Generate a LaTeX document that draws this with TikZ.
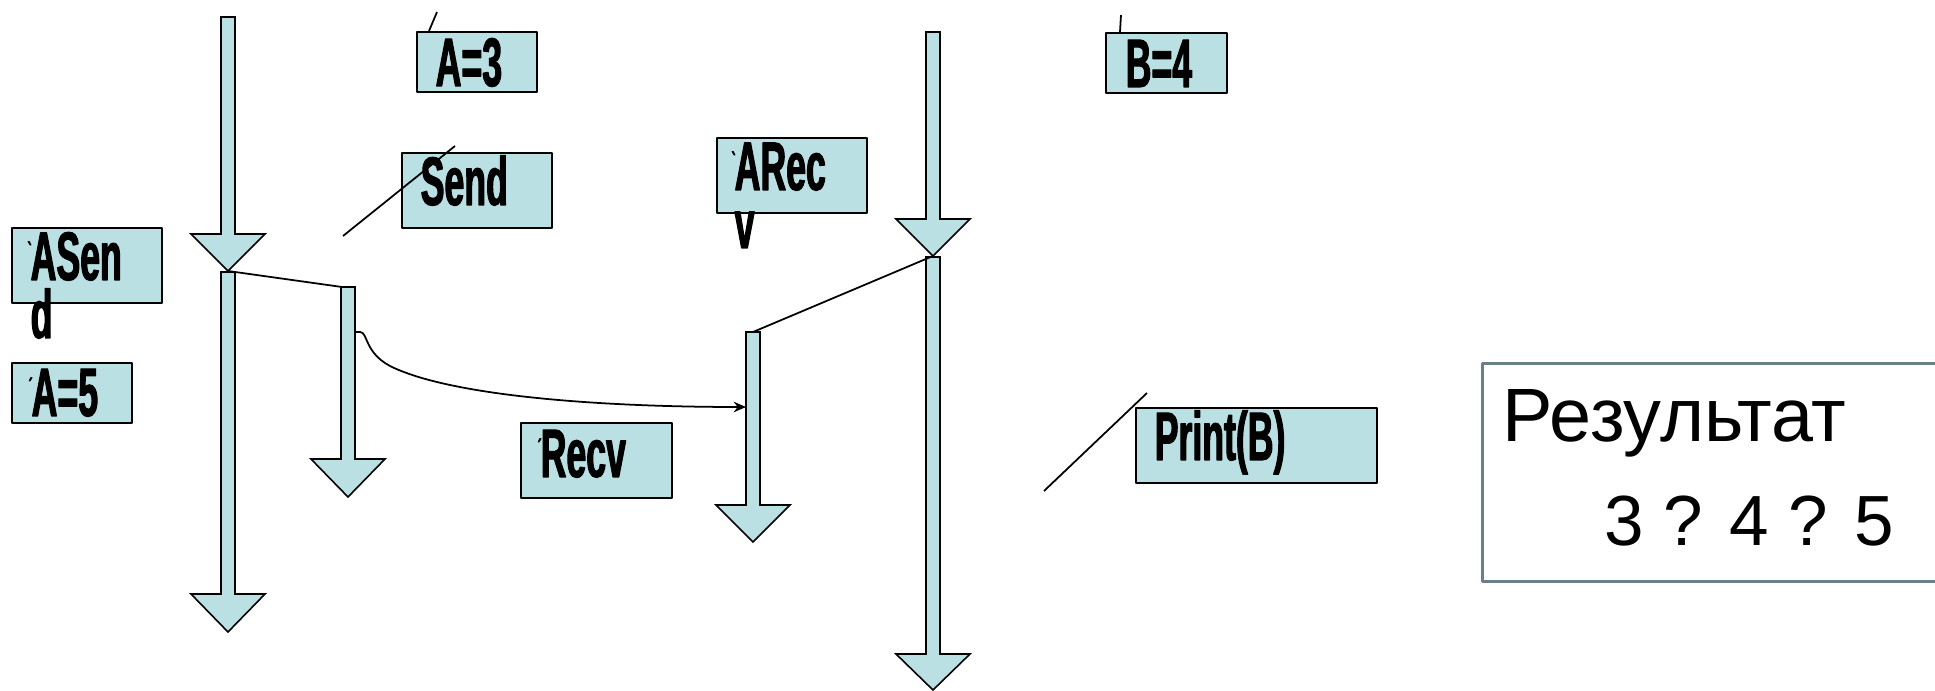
\documentclass[tikz,border=0pt]{standalone}
\usepackage{fontspec}
\setmainfont{Liberation Sans}
\newfontfamily\lblfont[UprightFont=* Bold, FakeStretch=0.52, FakeBold=1.6, Ligatures=TeXOff]{Liberation Sans}
\usetikzlibrary{arrows.meta}

\definecolor{boxfill}{RGB}{187,224,227}
\definecolor{frame}{RGB}{104,128,134}

% small accent mark hanging in front of a label
\newcommand\tick[1]{\llap{\raisebox{0.3em}{\fontsize{7}{7}\selectfont#1}\hspace{-0.3pt}}}

\begin{document}
\begin{tikzpicture}[
  x=0.01cm, y=-0.01cm, line join=round,
  flow/.style={draw, fill=boxfill, line width=0.45pt, line join=miter},
  note/.style={draw, fill=boxfill, line width=0.6pt, anchor=north west,
               inner sep=0pt, minimum width=1.5cm, minimum height=0.75cm},
  notetxt/.style={anchor=base west, inner sep=0pt, align=left,
                  font=\lblfont\fontsize{19.5}{16.5}\selectfont},
  wire/.style={line width=0.5pt},
  result/.style={draw=frame, line width=0.8pt, fill=white, anchor=north west,
                 inner sep=0pt, minimum width=4.8cm, minimum height=2.18cm},
  restxt/.style={anchor=base west, inner sep=0pt}
]

  \fill[white] (0,0) rectangle (1935,691);
  \useasboundingbox (0,0) rectangle (1935,691);

  % ── Block arrows (time lines) ─────────────────────────────────────────────
  \foreach \nm/\cx/\ya/\yb/\yc in {pa/228/17/234/271, pb/228/272/594/632,
                                   ps/348/287/459/497, qs/753/332/505/542,
                                   qa/933/32/219/256, qb/933/257/654/690}
  {
    \draw[flow] (\cx-7,\ya) -- (\cx+7,\ya) -- (\cx+7,\yb) -- (\cx+37,\yb)
      -- (\cx,\yc) -- (\cx-37,\yb) -- (\cx-7,\yb) -- cycle;
    \coordinate (\nm-top) at (\cx,\ya);
    \coordinate (\nm-tip) at (\cx,\yc);
  }

  % fork / join lines
  \draw[wire] (pa-tip) -- ([shift={(-6,0)}]ps-top);
  \draw[wire] (qs-top) -- (qa-tip);

  % message Send -> Recv
  \draw[wire, -{Stealth[length=3.5pt, width=3pt]}]
    ([shift={(7,45)}]ps-top) -- ++(5,0)
    .. controls (368,332) and (364,352) .. (390,366)
    .. controls (450,396) and (600,407) .. ([shift={(-7,75)}]qs-top);

  % ── Labels ────────────────────────────────────────────────────────────────
  \node[note, minimum width=1.2cm, minimum height=0.6cm] (eqa) at (416,31) {};
  \node[notetxt] at ([shift={(19,55)}]eqa.north west) {A=3};

  \node[note, minimum width=1.21cm, minimum height=0.6cm] (eqb) at (1105,32) {};
  \node[notetxt] at ([shift={(20,55)}]eqb.north west) {B=4};

  \node[note] (send) at (401,152) {};
  \node[notetxt] at ([shift={(19,53)}]send.north west) {Send};

  % two-line texts: base is the last line
  \node[note] (asend) at (11,227) {};
  \node[notetxt] at ([shift={(19,111)}]asend.north west) {\tick{`}ASen\\d};

  \node[note, minimum width=1.2cm, minimum height=0.6cm] (eqc) at (11,362) {};
  \node[notetxt] at ([shift={(20,54)}]eqc.north west) {\tick{´}A=5};

  \node[note, minimum width=1.51cm] (recv) at (520,422) {};
  \node[notetxt] at ([shift={(20,55)}]recv.north west) {\tick{´}Recv};

  \node[note] (arecv) at (716,137) {};
  \node[notetxt] at ([shift={(18,111)}]arecv.north west) {\tick{`}ARec\\v};

  \node[note, minimum width=2.41cm] (print) at (1135,407) {};
  \node[notetxt] at ([shift={(19,53)}]print.north west) {Print(B)};

  % callout strokes
  \draw[wire] ([shift={(13,0)}]eqa.north west) -- ++(8,-19);
  \draw[wire] ([shift={(15,0)}]eqb.north west) -- ++(1,-17);
  \draw[wire] ([shift={(-58,84)}]send.north west) -- ([shift={(54,-6)}]send.north west);
  \draw[wire] ([shift={(-91,84)}]print.north west) -- ([shift={(12,-14)}]print.north west);

  % ── Result ────────────────────────────────────────────────────────────────
  \node[result] (res) at (1481,362) {};
  \node[restxt, font=\fontsize{21.5}{25}\selectfont] (restitle)
    at ([shift={(21,80)}]res.north west) {Результат};
  \node[restxt, font=\fontsize{20.2}{24}\selectfont] (resval)
    at ([shift={(123,183)}]res.north west) {3 ? 4 ? 5};

\end{tikzpicture}
\end{document}
